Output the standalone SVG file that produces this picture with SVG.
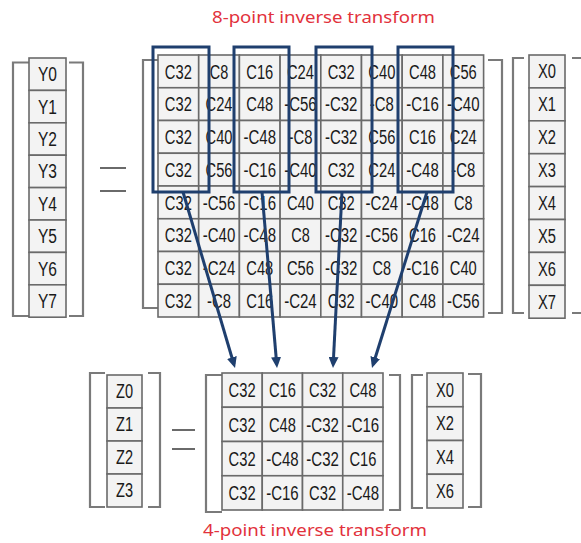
<svg xmlns="http://www.w3.org/2000/svg" width="581" height="543" viewBox="0 0 581 543">
<style>
.bg{fill:#ffffff}
.cell{fill:#f3f3f3;stroke:#6a6a6a;stroke-width:1.6}
.br{fill:none;stroke:#7a7a7a;stroke-width:2.2}
.eq{stroke:#6a6a6a;stroke-width:2}
.t{font-family:"Liberation Sans",Arial,sans-serif;font-size:20px;fill:#1a1a1a;text-anchor:middle}
.lbl{font-family:"Noto Sans","Open Sans",sans-serif;font-size:17px;fill:#e2323c;text-anchor:middle}
.hl{fill:none;stroke:#1f3f6e;stroke-width:3}
.ar{stroke:#1f3f6e;stroke-width:3;fill:none}
</style>
<defs>
<marker id="ah" viewBox="0 0 11 10" refX="7" refY="5" markerWidth="11" markerHeight="10" markerUnits="userSpaceOnUse" orient="auto">
<path d="M0,0 L11,5 L0,10 z" fill="#1f3f6e"/>
</marker>
</defs>
<rect class="bg" x="0" y="0" width="581" height="543"/>

<g id="title8">
<text class="lbl" x="323.5" y="23" textLength="223" lengthAdjust="spacingAndGlyphs">8-point inverse transform</text>
</g>

<g id="vecY">
<path class="br" d="M29,62.5 H13 V316 H29"/>
<path class="br" d="M69,62.5 H83 V316 H69"/>
<rect class="cell" x="29" y="58" width="37" height="32.4"/>
<rect class="cell" x="29" y="90.4" width="37" height="32.4"/>
<rect class="cell" x="29" y="122.8" width="37" height="32.4"/>
<rect class="cell" x="29" y="155.2" width="37" height="32.4"/>
<rect class="cell" x="29" y="187.6" width="37" height="32.4"/>
<rect class="cell" x="29" y="220" width="37" height="32.4"/>
<rect class="cell" x="29" y="252.4" width="37" height="32.4"/>
<rect class="cell" x="29" y="284.8" width="37" height="32.4"/>
<text class="t" x="47.5" y="81.2" textLength="19" lengthAdjust="spacingAndGlyphs">Y0</text>
<text class="t" x="47.5" y="113.6" textLength="19" lengthAdjust="spacingAndGlyphs">Y1</text>
<text class="t" x="47.5" y="146" textLength="19" lengthAdjust="spacingAndGlyphs">Y2</text>
<text class="t" x="47.5" y="178.4" textLength="19" lengthAdjust="spacingAndGlyphs">Y3</text>
<text class="t" x="47.5" y="210.8" textLength="19" lengthAdjust="spacingAndGlyphs">Y4</text>
<text class="t" x="47.5" y="243.2" textLength="19" lengthAdjust="spacingAndGlyphs">Y5</text>
<text class="t" x="47.5" y="275.6" textLength="19" lengthAdjust="spacingAndGlyphs">Y6</text>
<text class="t" x="47.5" y="308" textLength="19" lengthAdjust="spacingAndGlyphs">Y7</text>
</g>

<g id="eq8">
<line class="eq" x1="100" y1="168" x2="126" y2="168"/>
<line class="eq" x1="100" y1="191" x2="126" y2="191"/>
</g>

<g id="matrix8">
<path class="br" d="M158,60 H143 V308 H158"/>
<path class="br" d="M488,60 H502 V313 H488"/>
<g>
<rect class="cell" x="158" y="55" width="40.7" height="32.75"/><rect class="cell" x="198.7" y="55" width="40.7" height="32.75"/><rect class="cell" x="239.4" y="55" width="40.7" height="32.75"/><rect class="cell" x="280.1" y="55" width="40.7" height="32.75"/><rect class="cell" x="320.8" y="55" width="40.7" height="32.75"/><rect class="cell" x="361.5" y="55" width="40.7" height="32.75"/><rect class="cell" x="402.2" y="55" width="40.7" height="32.75"/><rect class="cell" x="442.9" y="55" width="40.7" height="32.75"/>
<rect class="cell" x="158" y="87.75" width="40.7" height="32.75"/><rect class="cell" x="198.7" y="87.75" width="40.7" height="32.75"/><rect class="cell" x="239.4" y="87.75" width="40.7" height="32.75"/><rect class="cell" x="280.1" y="87.75" width="40.7" height="32.75"/><rect class="cell" x="320.8" y="87.75" width="40.7" height="32.75"/><rect class="cell" x="361.5" y="87.75" width="40.7" height="32.75"/><rect class="cell" x="402.2" y="87.75" width="40.7" height="32.75"/><rect class="cell" x="442.9" y="87.75" width="40.7" height="32.75"/>
<rect class="cell" x="158" y="120.5" width="40.7" height="32.75"/><rect class="cell" x="198.7" y="120.5" width="40.7" height="32.75"/><rect class="cell" x="239.4" y="120.5" width="40.7" height="32.75"/><rect class="cell" x="280.1" y="120.5" width="40.7" height="32.75"/><rect class="cell" x="320.8" y="120.5" width="40.7" height="32.75"/><rect class="cell" x="361.5" y="120.5" width="40.7" height="32.75"/><rect class="cell" x="402.2" y="120.5" width="40.7" height="32.75"/><rect class="cell" x="442.9" y="120.5" width="40.7" height="32.75"/>
<rect class="cell" x="158" y="153.25" width="40.7" height="32.75"/><rect class="cell" x="198.7" y="153.25" width="40.7" height="32.75"/><rect class="cell" x="239.4" y="153.25" width="40.7" height="32.75"/><rect class="cell" x="280.1" y="153.25" width="40.7" height="32.75"/><rect class="cell" x="320.8" y="153.25" width="40.7" height="32.75"/><rect class="cell" x="361.5" y="153.25" width="40.7" height="32.75"/><rect class="cell" x="402.2" y="153.25" width="40.7" height="32.75"/><rect class="cell" x="442.9" y="153.25" width="40.7" height="32.75"/>
<rect class="cell" x="158" y="186" width="40.7" height="32.75"/><rect class="cell" x="198.7" y="186" width="40.7" height="32.75"/><rect class="cell" x="239.4" y="186" width="40.7" height="32.75"/><rect class="cell" x="280.1" y="186" width="40.7" height="32.75"/><rect class="cell" x="320.8" y="186" width="40.7" height="32.75"/><rect class="cell" x="361.5" y="186" width="40.7" height="32.75"/><rect class="cell" x="402.2" y="186" width="40.7" height="32.75"/><rect class="cell" x="442.9" y="186" width="40.7" height="32.75"/>
<rect class="cell" x="158" y="218.75" width="40.7" height="32.75"/><rect class="cell" x="198.7" y="218.75" width="40.7" height="32.75"/><rect class="cell" x="239.4" y="218.75" width="40.7" height="32.75"/><rect class="cell" x="280.1" y="218.75" width="40.7" height="32.75"/><rect class="cell" x="320.8" y="218.75" width="40.7" height="32.75"/><rect class="cell" x="361.5" y="218.75" width="40.7" height="32.75"/><rect class="cell" x="402.2" y="218.75" width="40.7" height="32.75"/><rect class="cell" x="442.9" y="218.75" width="40.7" height="32.75"/>
<rect class="cell" x="158" y="251.5" width="40.7" height="32.75"/><rect class="cell" x="198.7" y="251.5" width="40.7" height="32.75"/><rect class="cell" x="239.4" y="251.5" width="40.7" height="32.75"/><rect class="cell" x="280.1" y="251.5" width="40.7" height="32.75"/><rect class="cell" x="320.8" y="251.5" width="40.7" height="32.75"/><rect class="cell" x="361.5" y="251.5" width="40.7" height="32.75"/><rect class="cell" x="402.2" y="251.5" width="40.7" height="32.75"/><rect class="cell" x="442.9" y="251.5" width="40.7" height="32.75"/>
<rect class="cell" x="158" y="284.25" width="40.7" height="32.75"/><rect class="cell" x="198.7" y="284.25" width="40.7" height="32.75"/><rect class="cell" x="239.4" y="284.25" width="40.7" height="32.75"/><rect class="cell" x="280.1" y="284.25" width="40.7" height="32.75"/><rect class="cell" x="320.8" y="284.25" width="40.7" height="32.75"/><rect class="cell" x="361.5" y="284.25" width="40.7" height="32.75"/><rect class="cell" x="402.2" y="284.25" width="40.7" height="32.75"/><rect class="cell" x="442.9" y="284.25" width="40.7" height="32.75"/>
</g>
<g>
<text class="t" x="178.35" y="78.7" textLength="27" lengthAdjust="spacingAndGlyphs">C32</text>
<text class="t" x="219.05" y="78.7" textLength="18.5" lengthAdjust="spacingAndGlyphs">C8</text>
<text class="t" x="259.75" y="78.7" textLength="27" lengthAdjust="spacingAndGlyphs">C16</text>
<text class="t" x="300.45" y="78.7" textLength="27" lengthAdjust="spacingAndGlyphs">C24</text>
<text class="t" x="341.15" y="78.7" textLength="27" lengthAdjust="spacingAndGlyphs">C32</text>
<text class="t" x="381.85" y="78.7" textLength="27" lengthAdjust="spacingAndGlyphs">C40</text>
<text class="t" x="422.55" y="78.7" textLength="27" lengthAdjust="spacingAndGlyphs">C48</text>
<text class="t" x="463.25" y="78.7" textLength="27" lengthAdjust="spacingAndGlyphs">C56</text>

<text class="t" x="178.35" y="111.4" textLength="27" lengthAdjust="spacingAndGlyphs">C32</text>
<text class="t" x="219.05" y="111.4" textLength="27" lengthAdjust="spacingAndGlyphs">C24</text>
<text class="t" x="259.75" y="111.4" textLength="27" lengthAdjust="spacingAndGlyphs">C48</text>
<text class="t" x="300.45" y="111.4" textLength="32.5" lengthAdjust="spacingAndGlyphs">-C56</text>
<text class="t" x="341.15" y="111.4" textLength="32.5" lengthAdjust="spacingAndGlyphs">-C32</text>
<text class="t" x="381.85" y="111.4" textLength="24" lengthAdjust="spacingAndGlyphs">-C8</text>
<text class="t" x="422.55" y="111.4" textLength="32.5" lengthAdjust="spacingAndGlyphs">-C16</text>
<text class="t" x="463.25" y="111.4" textLength="32.5" lengthAdjust="spacingAndGlyphs">-C40</text>

<text class="t" x="178.35" y="144.2" textLength="27" lengthAdjust="spacingAndGlyphs">C32</text>
<text class="t" x="219.05" y="144.2" textLength="27" lengthAdjust="spacingAndGlyphs">C40</text>
<text class="t" x="259.75" y="144.2" textLength="32.5" lengthAdjust="spacingAndGlyphs">-C48</text>
<text class="t" x="300.45" y="144.2" textLength="24" lengthAdjust="spacingAndGlyphs">-C8</text>
<text class="t" x="341.15" y="144.2" textLength="32.5" lengthAdjust="spacingAndGlyphs">-C32</text>
<text class="t" x="381.85" y="144.2" textLength="27" lengthAdjust="spacingAndGlyphs">C56</text>
<text class="t" x="422.55" y="144.2" textLength="27" lengthAdjust="spacingAndGlyphs">C16</text>
<text class="t" x="463.25" y="144.2" textLength="27" lengthAdjust="spacingAndGlyphs">C24</text>

<text class="t" x="178.35" y="176.9" textLength="27" lengthAdjust="spacingAndGlyphs">C32</text>
<text class="t" x="219.05" y="176.9" textLength="27" lengthAdjust="spacingAndGlyphs">C56</text>
<text class="t" x="259.75" y="176.9" textLength="32.5" lengthAdjust="spacingAndGlyphs">-C16</text>
<text class="t" x="300.45" y="176.9" textLength="32.5" lengthAdjust="spacingAndGlyphs">-C40</text>
<text class="t" x="341.15" y="176.9" textLength="27" lengthAdjust="spacingAndGlyphs">C32</text>
<text class="t" x="381.85" y="176.9" textLength="27" lengthAdjust="spacingAndGlyphs">C24</text>
<text class="t" x="422.55" y="176.9" textLength="32.5" lengthAdjust="spacingAndGlyphs">-C48</text>
<text class="t" x="463.25" y="176.9" textLength="24" lengthAdjust="spacingAndGlyphs">-C8</text>

<text class="t" x="178.35" y="209.7" textLength="27" lengthAdjust="spacingAndGlyphs">C32</text>
<text class="t" x="219.05" y="209.7" textLength="32.5" lengthAdjust="spacingAndGlyphs">-C56</text>
<text class="t" x="259.75" y="209.7" textLength="32.5" lengthAdjust="spacingAndGlyphs">-C16</text>
<text class="t" x="300.45" y="209.7" textLength="27" lengthAdjust="spacingAndGlyphs">C40</text>
<text class="t" x="341.15" y="209.7" textLength="27" lengthAdjust="spacingAndGlyphs">C32</text>
<text class="t" x="381.85" y="209.7" textLength="32.5" lengthAdjust="spacingAndGlyphs">-C24</text>
<text class="t" x="422.55" y="209.7" textLength="32.5" lengthAdjust="spacingAndGlyphs">-C48</text>
<text class="t" x="463.25" y="209.7" textLength="18.5" lengthAdjust="spacingAndGlyphs">C8</text>

<text class="t" x="178.35" y="242.4" textLength="27" lengthAdjust="spacingAndGlyphs">C32</text>
<text class="t" x="219.05" y="242.4" textLength="32.5" lengthAdjust="spacingAndGlyphs">-C40</text>
<text class="t" x="259.75" y="242.4" textLength="32.5" lengthAdjust="spacingAndGlyphs">-C48</text>
<text class="t" x="300.45" y="242.4" textLength="18.5" lengthAdjust="spacingAndGlyphs">C8</text>
<text class="t" x="341.15" y="242.4" textLength="32.5" lengthAdjust="spacingAndGlyphs">-C32</text>
<text class="t" x="381.85" y="242.4" textLength="32.5" lengthAdjust="spacingAndGlyphs">-C56</text>
<text class="t" x="422.55" y="242.4" textLength="27" lengthAdjust="spacingAndGlyphs">C16</text>
<text class="t" x="463.25" y="242.4" textLength="32.5" lengthAdjust="spacingAndGlyphs">-C24</text>

<text class="t" x="178.35" y="275.2" textLength="27" lengthAdjust="spacingAndGlyphs">C32</text>
<text class="t" x="219.05" y="275.2" textLength="32.5" lengthAdjust="spacingAndGlyphs">-C24</text>
<text class="t" x="259.75" y="275.2" textLength="27" lengthAdjust="spacingAndGlyphs">C48</text>
<text class="t" x="300.45" y="275.2" textLength="27" lengthAdjust="spacingAndGlyphs">C56</text>
<text class="t" x="341.15" y="275.2" textLength="32.5" lengthAdjust="spacingAndGlyphs">-C32</text>
<text class="t" x="381.85" y="275.2" textLength="18.5" lengthAdjust="spacingAndGlyphs">C8</text>
<text class="t" x="422.55" y="275.2" textLength="32.5" lengthAdjust="spacingAndGlyphs">-C16</text>
<text class="t" x="463.25" y="275.2" textLength="27" lengthAdjust="spacingAndGlyphs">C40</text>

<text class="t" x="178.35" y="307.9" textLength="27" lengthAdjust="spacingAndGlyphs">C32</text>
<text class="t" x="219.05" y="307.9" textLength="24" lengthAdjust="spacingAndGlyphs">-C8</text>
<text class="t" x="259.75" y="307.9" textLength="27" lengthAdjust="spacingAndGlyphs">C16</text>
<text class="t" x="300.45" y="307.9" textLength="32.5" lengthAdjust="spacingAndGlyphs">-C24</text>
<text class="t" x="341.15" y="307.9" textLength="27" lengthAdjust="spacingAndGlyphs">C32</text>
<text class="t" x="381.85" y="307.9" textLength="32.5" lengthAdjust="spacingAndGlyphs">-C40</text>
<text class="t" x="422.55" y="307.9" textLength="27" lengthAdjust="spacingAndGlyphs">C48</text>
<text class="t" x="463.25" y="307.9" textLength="32.5" lengthAdjust="spacingAndGlyphs">-C56</text>
</g>
</g>

<g id="vecX8">
<path class="br" d="M524,58 H513 V313 H524"/>
<path class="br" d="M572,58 H590 V313 H572"/>
<rect class="cell" x="529" y="55" width="36" height="32.9"/>
<rect class="cell" x="529" y="87.9" width="36" height="32.9"/>
<rect class="cell" x="529" y="120.8" width="36" height="32.9"/>
<rect class="cell" x="529" y="153.7" width="36" height="32.9"/>
<rect class="cell" x="529" y="186.6" width="36" height="32.9"/>
<rect class="cell" x="529" y="219.5" width="36" height="32.9"/>
<rect class="cell" x="529" y="252.4" width="36" height="32.9"/>
<rect class="cell" x="529" y="285.3" width="36" height="32.9"/>
<text class="t" x="547" y="78.3" textLength="18" lengthAdjust="spacingAndGlyphs">X0</text>
<text class="t" x="547" y="111.2" textLength="18" lengthAdjust="spacingAndGlyphs">X1</text>
<text class="t" x="547" y="144.1" textLength="18" lengthAdjust="spacingAndGlyphs">X2</text>
<text class="t" x="547" y="177" textLength="18" lengthAdjust="spacingAndGlyphs">X3</text>
<text class="t" x="547" y="209.9" textLength="18" lengthAdjust="spacingAndGlyphs">X4</text>
<text class="t" x="547" y="242.8" textLength="18" lengthAdjust="spacingAndGlyphs">X5</text>
<text class="t" x="547" y="275.7" textLength="18" lengthAdjust="spacingAndGlyphs">X6</text>
<text class="t" x="547" y="308.6" textLength="18" lengthAdjust="spacingAndGlyphs">X7</text>
</g>

<g id="highlights">
<rect class="hl" x="153" y="47" width="56" height="145"/>
<rect class="hl" x="234" y="47" width="55" height="145"/>
<rect class="hl" x="316" y="47" width="56" height="145"/>
<rect class="hl" x="398" y="47" width="55" height="145"/>
</g>

<g id="connectors">
<line class="ar" x1="183" y1="192" x2="233.9" y2="364.2" marker-end="url(#ah)"/>
<line class="ar" x1="262" y1="192" x2="276.7" y2="364" marker-end="url(#ah)"/>
<line class="ar" x1="342" y1="192" x2="333.2" y2="364" marker-end="url(#ah)"/>
<line class="ar" x1="427" y1="192" x2="373.2" y2="364.2" marker-end="url(#ah)"/>
</g>

<g id="vecZ">
<path class="br" d="M105,373 H90 V507 H105"/>
<path class="br" d="M148,373 H160 V507 H148"/>
<rect class="cell" x="107" y="375" width="35" height="33"/>
<rect class="cell" x="107" y="408" width="35" height="33"/>
<rect class="cell" x="107" y="441" width="35" height="33"/>
<rect class="cell" x="107" y="474" width="35" height="33"/>
<text class="t" x="124.5" y="398.3" textLength="17" lengthAdjust="spacingAndGlyphs">Z0</text>
<text class="t" x="124.5" y="431.3" textLength="17" lengthAdjust="spacingAndGlyphs">Z1</text>
<text class="t" x="124.5" y="464.3" textLength="17" lengthAdjust="spacingAndGlyphs">Z2</text>
<text class="t" x="124.5" y="497.3" textLength="17" lengthAdjust="spacingAndGlyphs">Z3</text>
</g>

<g id="eq4">
<line class="eq" x1="172" y1="430" x2="195" y2="430"/>
<line class="eq" x1="172" y1="449" x2="195" y2="449"/>
</g>

<g id="matrix4">
<path class="br" d="M222,375 H206 V512 H222"/>
<path class="br" d="M389,375 H400 V510 H389"/>
<rect class="cell" x="222" y="373" width="40.25" height="34.25"/><rect class="cell" x="262.25" y="373" width="40.25" height="34.25"/><rect class="cell" x="302.5" y="373" width="40.25" height="34.25"/><rect class="cell" x="342.75" y="373" width="40.25" height="34.25"/>
<rect class="cell" x="222" y="407.25" width="40.25" height="34.25"/><rect class="cell" x="262.25" y="407.25" width="40.25" height="34.25"/><rect class="cell" x="302.5" y="407.25" width="40.25" height="34.25"/><rect class="cell" x="342.75" y="407.25" width="40.25" height="34.25"/>
<rect class="cell" x="222" y="441.5" width="40.25" height="34.25"/><rect class="cell" x="262.25" y="441.5" width="40.25" height="34.25"/><rect class="cell" x="302.5" y="441.5" width="40.25" height="34.25"/><rect class="cell" x="342.75" y="441.5" width="40.25" height="34.25"/>
<rect class="cell" x="222" y="475.75" width="40.25" height="34.25"/><rect class="cell" x="262.25" y="475.75" width="40.25" height="34.25"/><rect class="cell" x="302.5" y="475.75" width="40.25" height="34.25"/><rect class="cell" x="342.75" y="475.75" width="40.25" height="34.25"/>
<text class="t" x="242.1" y="397.4" textLength="27" lengthAdjust="spacingAndGlyphs">C32</text>
<text class="t" x="282.4" y="397.4" textLength="27" lengthAdjust="spacingAndGlyphs">C16</text>
<text class="t" x="322.6" y="397.4" textLength="27" lengthAdjust="spacingAndGlyphs">C32</text>
<text class="t" x="362.9" y="397.4" textLength="27" lengthAdjust="spacingAndGlyphs">C48</text>
<text class="t" x="242.1" y="431.7" textLength="27" lengthAdjust="spacingAndGlyphs">C32</text>
<text class="t" x="282.4" y="431.7" textLength="27" lengthAdjust="spacingAndGlyphs">C48</text>
<text class="t" x="322.6" y="431.7" textLength="32.5" lengthAdjust="spacingAndGlyphs">-C32</text>
<text class="t" x="362.9" y="431.7" textLength="32.5" lengthAdjust="spacingAndGlyphs">-C16</text>
<text class="t" x="242.1" y="465.9" textLength="27" lengthAdjust="spacingAndGlyphs">C32</text>
<text class="t" x="282.4" y="465.9" textLength="32.5" lengthAdjust="spacingAndGlyphs">-C48</text>
<text class="t" x="322.6" y="465.9" textLength="32.5" lengthAdjust="spacingAndGlyphs">-C32</text>
<text class="t" x="362.9" y="465.9" textLength="27" lengthAdjust="spacingAndGlyphs">C16</text>
<text class="t" x="242.1" y="500.2" textLength="27" lengthAdjust="spacingAndGlyphs">C32</text>
<text class="t" x="282.4" y="500.2" textLength="32.5" lengthAdjust="spacingAndGlyphs">-C16</text>
<text class="t" x="322.6" y="500.2" textLength="27" lengthAdjust="spacingAndGlyphs">C32</text>
<text class="t" x="362.9" y="500.2" textLength="32.5" lengthAdjust="spacingAndGlyphs">-C48</text>
</g>

<g id="vecX4">
<path class="br" d="M423,375 H412 V508 H423"/>
<path class="br" d="M468,374 H481 V507 H468"/>
<rect class="cell" x="427" y="373" width="36" height="33.75"/>
<rect class="cell" x="427" y="406.75" width="36" height="33.75"/>
<rect class="cell" x="427" y="440.5" width="36" height="33.75"/>
<rect class="cell" x="427" y="474.25" width="36" height="33.75"/>
<text class="t" x="445" y="396.7" textLength="18" lengthAdjust="spacingAndGlyphs">X0</text>
<text class="t" x="445" y="430.4" textLength="18" lengthAdjust="spacingAndGlyphs">X2</text>
<text class="t" x="445" y="464.2" textLength="18" lengthAdjust="spacingAndGlyphs">X4</text>
<text class="t" x="445" y="497.9" textLength="18" lengthAdjust="spacingAndGlyphs">X6</text>
</g>

<g id="title4">
<text class="lbl" x="315" y="536" textLength="224" lengthAdjust="spacingAndGlyphs">4-point inverse transform</text>
</g>
</svg>
